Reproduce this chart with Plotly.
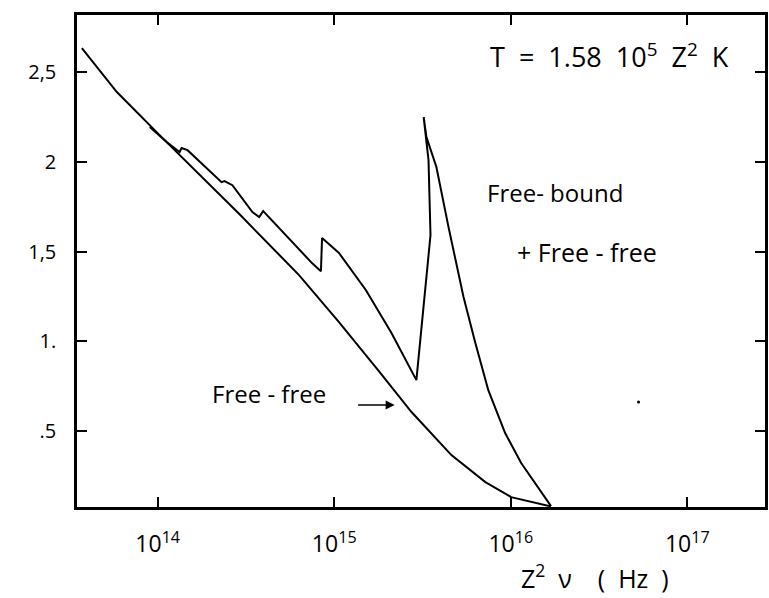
import plotly.graph_objects as go

# Free-free emission (frequency Z^2 nu in Hz, ordinate value)
nu_ff = [3.72e13, 5.87e13, 1.094e14, 2.90e14, 6.32e14, 1.064e15,
         1.79e15, 2.74e15, 4.61e15, 7.18e15, 1.005e16, 1.69e16]
val_ff = [2.634, 2.389, 2.121, 1.709, 1.369, 1.107,
          0.834, 0.606, 0.366, 0.216, 0.132, 0.080]

# Free-bound + free-free emission, with the recombination edges
nu_fb = [9.02e13, 1.125e14, 1.33e14, 1.365e14, 1.476e14, 2.30e14, 2.39e14,
         2.65e14, 3.44e14, 3.76e14, 3.96e14, 7.48e14, 8.41e14, 8.53e14,
         1.064e15, 1.51e15, 2.11e15, 2.92e15, 3.51e15, 3.42e15, 3.21e15,
         3.33e15, 3.79e15, 4.44e15, 5.40e15, 6.30e15, 7.46e15, 9.29e15,
         1.145e16, 1.374e16, 1.69e16]
val_fb = [2.194, 2.110, 2.054, 2.077, 2.065, 1.887, 1.893,
          1.870, 1.720, 1.692, 1.726, 1.436, 1.391, 1.575,
          1.492, 1.286, 1.046, 0.784, 1.592, 2.010, 2.249,
          2.138, 1.971, 1.636, 1.247, 0.990, 0.728, 0.489,
          0.322, 0.210, 0.082]

x_tickvals = [1e14, 1e15, 1e16, 1e17]
x_ticktext = ["10<sup>14</sup>", "10<sup>15</sup>", "10<sup>16</sup>", "10<sup>17</sup>"]
y_tickvals = [0.5, 1.0, 1.5, 2.0, 2.5]
y_ticktext = [".5", "1.", "1,5", "2", "2,5"]

FONT = "Open Sans"

fig = go.Figure()
fig.add_trace(go.Scatter(x=nu_ff, y=val_ff, mode="lines",
                         line=dict(color="black", width=2), showlegend=False))
fig.add_trace(go.Scatter(x=nu_fb, y=val_fb, mode="lines",
                         line=dict(color="black", width=2), showlegend=False))

axis_common = dict(
    showline=True, linecolor="black", linewidth=2.5, mirror="ticks",
    ticks="inside", ticklen=10, tickwidth=1.5, tickcolor="black",
    showgrid=False, zeroline=False,
)

fig.update_xaxes(type="log", range=[13.543, 17.44],
                 tickvals=x_tickvals, ticktext=x_ticktext,
                 tickfont=dict(family=FONT, size=23, color="black"),
                 ticklabelstandoff=15, **axis_common)
fig.update_yaxes(range=[0.077, 2.818],
                 tickvals=y_tickvals, ticktext=y_ticktext,
                 tickfont=dict(family=FONT, size=20, color="black"),
                 ticklabelstandoff=14, **axis_common)

def px_x(p):
    return (p - 77) / 691

def px_y(p):
    return (507 - p) / 492

def label(px, py, text, size, xanchor="center"):
    fig.add_annotation(x=px_x(px), y=px_y(py), xref="paper", yref="paper",
                       xanchor=xanchor, yanchor="middle", text=text,
                       showarrow=False,
                       font=dict(family=FONT, size=size, color="black"))

label(612, 55, "T  =  1.58  10<sup>5</sup>  Z<sup>2</sup>  K", 27)
label(487, 192, "Free- bound", 24, xanchor="left")
label(517, 252, "+ Free - free", 25, xanchor="left")
label(270, 393, "Free - free", 24)
label(597, 576, "Z<sup>2</sup>  ν    (  Hz  )", 25)

fig.add_annotation(x=px_x(396), y=px_y(405), xref="paper", yref="paper",
                   text="", showarrow=True, ax=-38, ay=0,
                   arrowhead=2, arrowsize=1.2, arrowwidth=1.5, arrowcolor="black")

# small pen dot in the empty right part of the frame
fig.add_shape(type="circle", xref="paper", yref="paper",
              x0=px_x(639.5), x1=px_x(642.5), y0=px_y(403.5), y1=px_y(400.5),
              fillcolor="black", line=dict(width=0))

fig.update_layout(
    width=769, height=598,
    margin=dict(l=77, r=1, t=15, b=91),
    paper_bgcolor="white", plot_bgcolor="white",
    font=dict(family=FONT, color="black"),
)

fig.write_html("out.html")
